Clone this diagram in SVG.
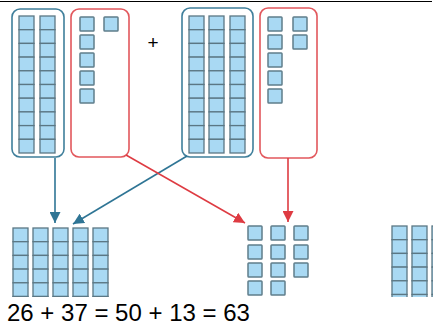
<svg xmlns="http://www.w3.org/2000/svg" xmlns:xlink="http://www.w3.org/1999/xlink" width="433" height="327" viewBox="0 0 433 327">
  <style>
    .tensBox { fill: none; stroke: #3f7f9b; stroke-width: 1.6; }
    .onesBox { fill: none; stroke: #e2575c; stroke-width: 1.6; }
    .cell { fill: #a9d9f3; stroke: #5b7784; stroke-width: 1.3; }
    .cube { fill: #a9d9f3; stroke: #5f7d8b; stroke-width: 1.5; }
    .blueLink { fill: none; stroke: #2f7595; stroke-width: 1.6; }
    .redLink { fill: none; stroke: #de3b42; stroke-width: 1.6; }
    .label { font-family: "Liberation Sans", "Open Sans", sans-serif; fill: #000; }
  </style>
  <defs>
    <!-- a ten-rod: ten unit cells stacked -->
    <g id="rod10">
      <rect class="cell" x="0" y="0" width="15" height="13.7"/>
      <rect class="cell" x="0" y="13.7" width="15" height="13.7"/>
      <rect class="cell" x="0" y="27.4" width="15" height="13.7"/>
      <rect class="cell" x="0" y="41.1" width="15" height="13.7"/>
      <rect class="cell" x="0" y="54.8" width="15" height="13.7"/>
      <rect class="cell" x="0" y="68.5" width="15" height="13.7"/>
      <rect class="cell" x="0" y="82.2" width="15" height="13.7"/>
      <rect class="cell" x="0" y="95.9" width="15" height="13.7"/>
      <rect class="cell" x="0" y="109.6" width="15" height="13.7"/>
      <rect class="cell" x="0" y="123.3" width="15" height="13.7"/>
    </g>
    <rect id="cube" class="cube" x="0" y="0" width="14" height="14" rx="0.8"/>
    <clipPath id="rowClip">
      <rect x="0" y="0" width="433" height="297"/>
    </clipPath>
    <marker id="arrowBlue" viewBox="0 0 10 10" refX="10" refY="5" markerWidth="11" markerHeight="11" markerUnits="userSpaceOnUse" orient="auto">
      <path d="M0,0 L10,5 L0,10 Z" fill="#2f7595"/>
    </marker>
    <marker id="arrowRed" viewBox="0 0 10 10" refX="10" refY="5" markerWidth="11" markerHeight="11" markerUnits="userSpaceOnUse" orient="auto">
      <path d="M0,0 L10,5 L0,10 Z" fill="#de3b42"/>
    </marker>
  </defs>

  <rect x="0" y="0" width="433" height="327" fill="#ffffff"/>
  <!-- top rule -->
  <line x1="0" y1="1.5" x2="432" y2="1.5" stroke="#000" stroke-width="1.2"/>

  <!-- 26: two tens -->
  <g id="tens-26">
    <rect class="tensBox" x="12" y="9" width="52" height="148" rx="8"/>
    <use xlink:href="#rod10" x="19" y="16"/>
    <use xlink:href="#rod10" x="40" y="16"/>
  </g>

  <!-- 26: six ones -->
  <g id="ones-26">
    <rect class="onesBox" x="71" y="9" width="58" height="148" rx="8"/>
    <use xlink:href="#cube" x="80" y="17"/>
    <use xlink:href="#cube" x="80" y="35"/>
    <use xlink:href="#cube" x="80" y="53"/>
    <use xlink:href="#cube" x="80" y="71"/>
    <use xlink:href="#cube" x="80" y="89"/>
    <use xlink:href="#cube" x="104" y="17"/>
  </g>

  <g id="plus">
    <text class="label" x="153" y="49" font-size="19" text-anchor="middle" fill="#222">+</text>
  </g>

  <!-- 37: three tens -->
  <g id="tens-37">
    <rect class="tensBox" x="182" y="8" width="71" height="149" rx="8"/>
    <use xlink:href="#rod10" x="189" y="16"/>
    <use xlink:href="#rod10" x="209" y="16"/>
    <use xlink:href="#rod10" x="230" y="16"/>
  </g>

  <!-- 37: seven ones -->
  <g id="ones-37">
    <rect class="onesBox" x="260" y="8" width="57" height="150" rx="8"/>
    <use xlink:href="#cube" x="268" y="17"/>
    <use xlink:href="#cube" x="268" y="35"/>
    <use xlink:href="#cube" x="268" y="53"/>
    <use xlink:href="#cube" x="268" y="71"/>
    <use xlink:href="#cube" x="268" y="89"/>
    <use xlink:href="#cube" x="293" y="17"/>
    <use xlink:href="#cube" x="293" y="35"/>
  </g>

  <!-- combined tens -->
  <g id="tens-50" clip-path="url(#rowClip)">
    <use xlink:href="#rod10" x="13" y="228"/>
    <use xlink:href="#rod10" x="33" y="228"/>
    <use xlink:href="#rod10" x="53" y="228"/>
    <use xlink:href="#rod10" x="73" y="228"/>
    <use xlink:href="#rod10" x="93" y="228"/>
  </g>

  <!-- combined ones -->
  <g id="ones-13">
    <use xlink:href="#cube" x="248" y="226"/>
    <use xlink:href="#cube" x="271" y="226"/>
    <use xlink:href="#cube" x="294" y="226"/>
    <use xlink:href="#cube" x="248" y="245"/>
    <use xlink:href="#cube" x="271" y="245"/>
    <use xlink:href="#cube" x="294" y="245"/>
    <use xlink:href="#cube" x="248" y="263"/>
    <use xlink:href="#cube" x="271" y="263"/>
    <use xlink:href="#cube" x="294" y="263"/>
    <use xlink:href="#cube" x="248" y="281"/>
    <use xlink:href="#cube" x="271" y="281"/>
  </g>

  <!-- result tens, running off the edge -->
  <g id="tens-63" clip-path="url(#rowClip)">
    <use xlink:href="#rod10" x="392" y="226"/>
    <use xlink:href="#rod10" x="412" y="226"/>
    <use xlink:href="#rod10" x="432" y="226"/>
  </g>

  <g id="connectors">
    <line class="blueLink" x1="55" y1="158" x2="55" y2="223" marker-end="url(#arrowBlue)"/>
    <line class="blueLink" x1="187" y1="156" x2="73" y2="224" marker-end="url(#arrowBlue)"/>
    <line class="redLink" x1="126" y1="155" x2="245" y2="223" marker-end="url(#arrowRed)"/>
    <line class="redLink" x1="288" y1="158" x2="288" y2="222" marker-end="url(#arrowRed)"/>
  </g>

  <g id="equation">
    <text class="label" x="7" y="321" font-size="24">26 + 37 = 50 + 13 = 63</text>
  </g>
</svg>
